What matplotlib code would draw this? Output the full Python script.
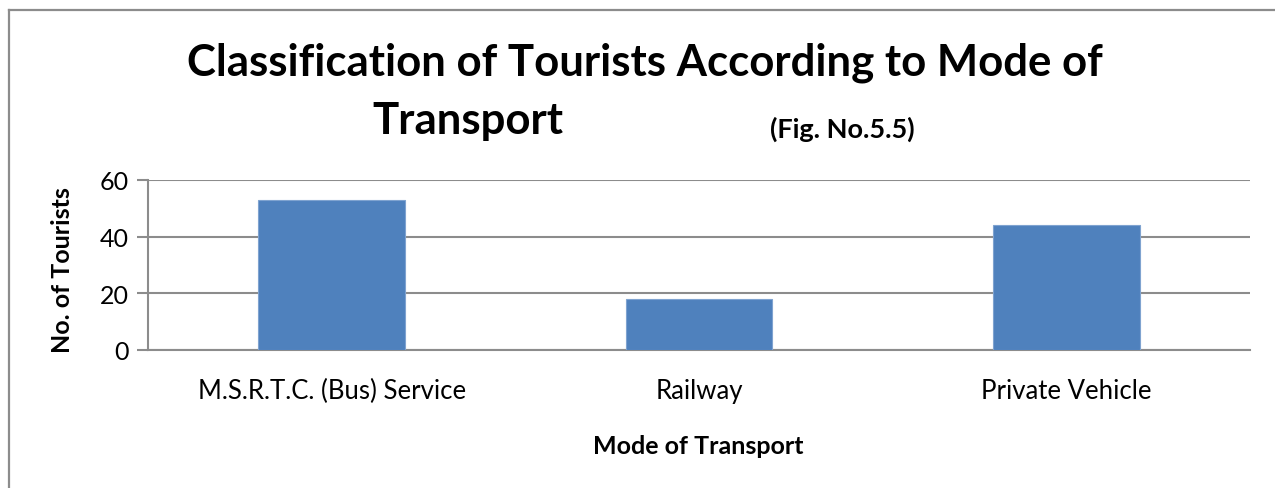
import matplotlib
matplotlib.use("Agg")
import matplotlib.pyplot as plt
from matplotlib.lines import Line2D

categories = ["M.S.R.T.C. (Bus) Service", "Railway", "Private Vehicle"]
tourists = [53, 18, 44]
y_ticks = [0, 20, 40, 60]

W, H = 1275, 489
plt.rcParams["font.family"] = ["Lato", "DejaVu Sans"]

fig = plt.figure(figsize=(W / 100, H / 100), dpi=100)
fig.patch.set_facecolor("white")


def fx(px):
    return px / W


def fy(py):
    return 1 - py / H


# chart-area frame (left and top edges visible)
grey = "#8c8c8c"
fig.add_artist(Line2D([fx(9), fx(9)], [fy(10.5), -0.1], transform=fig.transFigure,
                      color=grey, lw=1.6))
fig.add_artist(Line2D([fx(9), 1.1], [fy(10.5), fy(10.5)], transform=fig.transFigure,
                      color=grey, lw=1.6))

ax = fig.add_axes([fx(148), fy(351), fx(1250) - fx(148), fy(181) - fy(351)])
x = range(len(categories))
ax.bar(x, tourists, width=0.4, color="#4f81bd", edgecolor="#7fa3d0", linewidth=0.8, zorder=3)
ax.set_xlim(-0.5, len(categories) - 0.5)
ax.set_ylim(0, 60)
ax.set_yticks(y_ticks)
ax.set_xticks(list(x))
ax.set_xticklabels(categories, fontsize=18.5)
ax.tick_params(axis="x", length=0, pad=20)
ax.tick_params(axis="y", length=8, width=1.5, color=grey, labelsize=18, pad=6)
ax.yaxis.grid(True, color=grey, linewidth=1.5, zorder=0)
ax.set_axisbelow(True)
for side in ("top", "right"):
    ax.spines[side].set_visible(False)
for side in ("left", "bottom"):
    ax.spines[side].set_color(grey)
    ax.spines[side].set_linewidth(1.5)

fig.text(fx(62), fy(270), "No. of Tourists", rotation=90, ha="center", va="center",
         fontsize=18, fontweight="bold")
fig.text(fx(698), fy(447), "Mode of Transport", ha="center", va="center",
         fontsize=18, fontweight="bold")

fig.text(fx(645), fy(63), "Classification of Tourists According to Mode of",
         ha="center", va="center", fontsize=31.5, fontweight="bold")
fig.text(fx(468), fy(121), "Transport", ha="center", va="center",
         fontsize=31.5, fontweight="bold")
fig.text(fx(842), fy(129), "(Fig. No.5.5)", ha="center", va="center",
         fontsize=19.5, fontweight="bold")

fig.savefig("out.png", dpi=100, facecolor="white")
